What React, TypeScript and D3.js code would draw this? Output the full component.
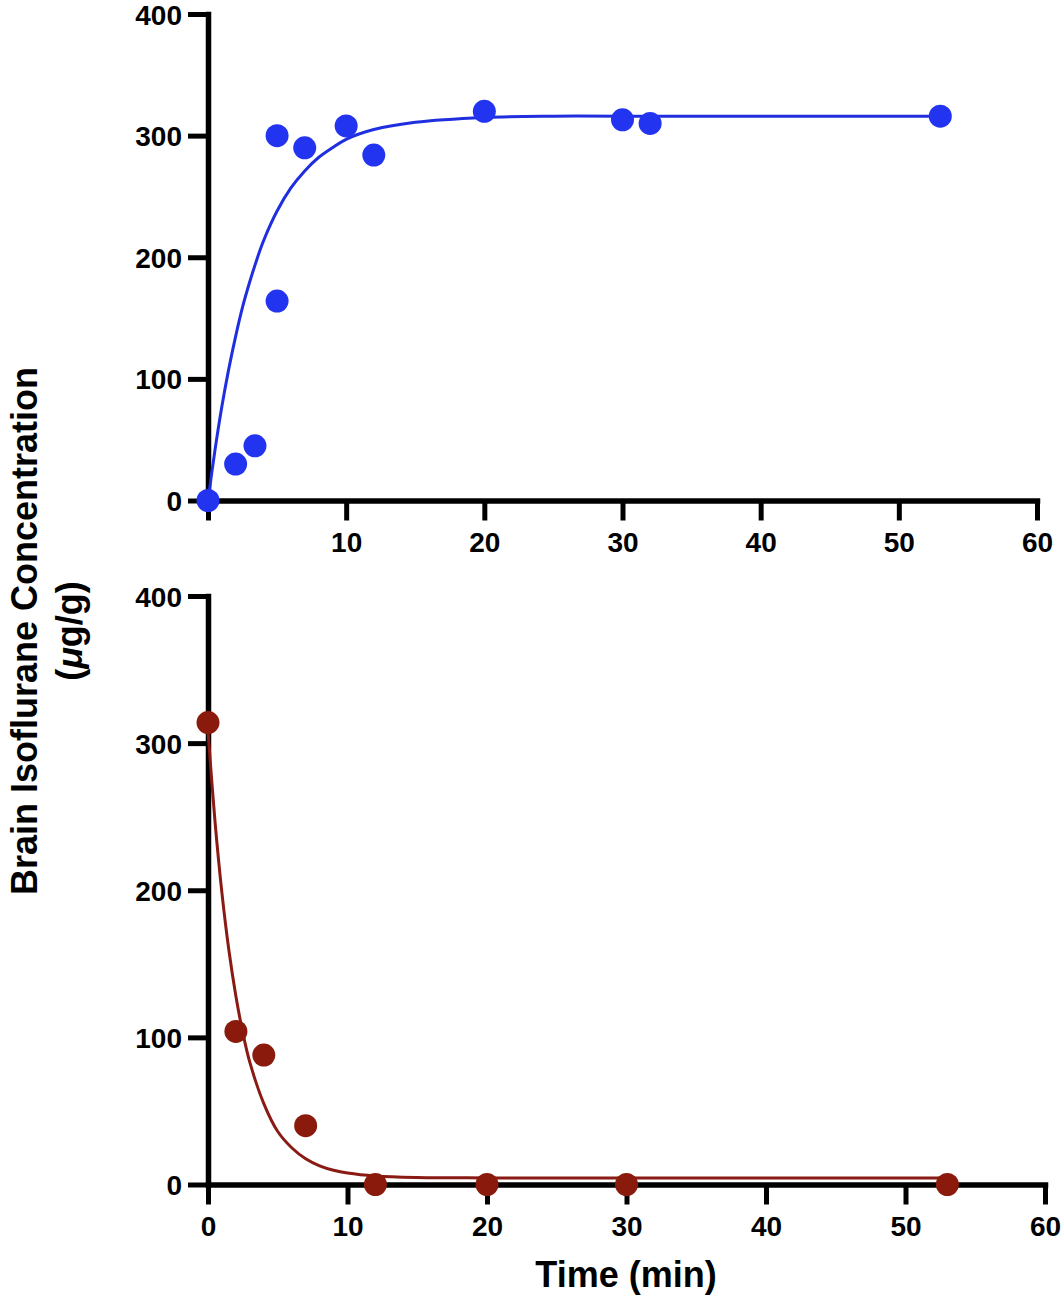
import React, { useEffect, useRef } from 'react';
import * as d3 from 'd3';

// uptake (top panel)
const uptakeTime = [0, 2, 3.4, 5, 5, 7, 10, 12, 20, 30, 32, 53];
const uptakeConc = [0, 30, 45, 300, 164, 290, 308, 284, 320, 313, 310, 316];
const uptakeFitTime = [0, 0.5, 1, 1.5, 2, 2.5, 3, 3.5, 4, 5, 6, 7, 8, 9, 10, 12, 15, 20, 25, 30, 40, 53];
const uptakeFitConc = [0, 41, 77, 108, 135, 159, 179, 197, 213, 238, 257, 271, 282, 290, 297, 305, 311, 315, 316, 316, 316, 316];

// elimination (bottom panel)
const elimTime = [0, 2, 4, 7, 12, 20, 30, 53];
const elimConc = [314, 104, 88, 40, 0, 0, 0, 0];
const elimFitTime = [0, 0.5, 1, 1.5, 2, 2.5, 3, 4, 5, 6, 7, 8, 9, 10, 12, 15, 20, 30, 53];
const elimFitConc = [308, 247, 198, 159, 128, 103, 83, 55, 36, 25, 17.5, 12.7, 9.7, 7.8, 5.8, 4.8, 4.5, 4.4, 4.4];

const xTicks = [0, 10, 20, 30, 40, 50, 60];
const yTicks = [0, 100, 200, 300, 400];

const FONT = '"Liberation Sans", Arial, Helvetica, sans-serif';

const App: React.FC = () => {
  const svgRef = useRef<SVGSVGElement>(null);

  useEffect(() => {
    if (!svgRef.current) return;
    const svg = d3.select(svgRef.current);
    svg.selectAll('*').remove();

    const panels = [
      {
        xs: uptakeTime, ys: uptakeConc, fx: uptakeFitTime, fy: uptakeFitConc,
        xRange: [208, 1037], yRange: [500.5, 14], color: '#2234f0', line: '#1f2fe0',
        showZero: false,
      },
      {
        xs: elimTime, ys: elimConc, fx: elimFitTime, fy: elimFitConc,
        xRange: [208, 1045], yRange: [1184.5, 596], color: '#8a1b0c', line: '#8a1a14',
        showZero: true,
      },
    ];

    panels.forEach(p => {
      const x = d3.scaleLinear().domain([0, 60]).range(p.xRange);
      const y = d3.scaleLinear().domain([0, 400]).range(p.yRange);
      const g = svg.append('g');

      // axes
      const xAxis = d3.axisBottom(x)
        .tickValues(xTicks)
        .tickSize(20)
        .tickSizeOuter(0)
        .tickPadding(12)
        .tickFormat(d => (+d === 0 && !p.showZero ? '' : String(d)));
      const yAxis = d3.axisLeft(y)
        .tickValues(yTicks)
        .tickSize(20)
        .tickSizeOuter(0)
        .tickPadding(6);

      const gx = g.append('g').attr('transform', `translate(0,${y(0)})`).call(xAxis);
      const gy = g.append('g').attr('transform', `translate(${x(0)},0)`).call(yAxis);

      [gx, gy].forEach(a => {
        a.select('.domain').attr('stroke', '#000').attr('stroke-width', 5.5).attr('stroke-linecap', 'square');
        a.selectAll('.tick line').attr('stroke', '#000').attr('stroke-width', 5);
        a.selectAll('.tick text')
          .attr('fill', '#000')
          .style('font-family', FONT)
          .style('font-weight', 'bold')
          .style('font-size', '28px');
      });
      gy.selectAll('.tick text').attr('dy', '0.36em');

      // fitted curve
      const line = d3.line<number>()
        .x((_, i) => x(p.fx[i]))
        .y(d => y(d))
        .curve(d3.curveCatmullRom.alpha(0.5));
      g.append('path')
        .datum(p.fy)
        .attr('d', line)
        .attr('fill', 'none')
        .attr('stroke', p.line)
        .attr('stroke-width', 3);

      // points
      g.selectAll('circle.pt')
        .data(p.ys)
        .enter()
        .append('circle')
        .attr('class', 'pt')
        .attr('cx', (_, i) => x(p.xs[i]))
        .attr('cy', d => y(d))
        .attr('r', 11.5)
        .attr('fill', p.color);
    });

    // axis titles
    const yLab = svg.append('text')
      .attr('transform', 'rotate(-90)')
      .attr('text-anchor', 'middle')
      .style('font-family', FONT)
      .style('font-weight', 'bold')
      .style('font-size', '36px')
      .attr('fill', '#000');
    yLab.append('tspan').attr('x', -631).attr('y', 37).text('Brain Isoflurane Concentration');
    const l2 = yLab.append('tspan').attr('x', -631).attr('y', 82);
    l2.append('tspan').text('(');
    l2.append('tspan').style('font-style', 'italic').text('μ');
    l2.append('tspan').text('g/g)');

    svg.append('text')
      .attr('x', 626)
      .attr('y', 1287)
      .attr('text-anchor', 'middle')
      .style('font-family', FONT)
      .style('font-weight', 'bold')
      .style('font-size', '36px')
      .attr('fill', '#000')
      .text('Time (min)');
  }, []);

  return (
    <div style={{ position: 'absolute', left: 0, top: 0, background: '#fff' }}>
      <svg ref={svgRef} width={1063} height={1300}></svg>
    </div>
  );
};

export default App;
